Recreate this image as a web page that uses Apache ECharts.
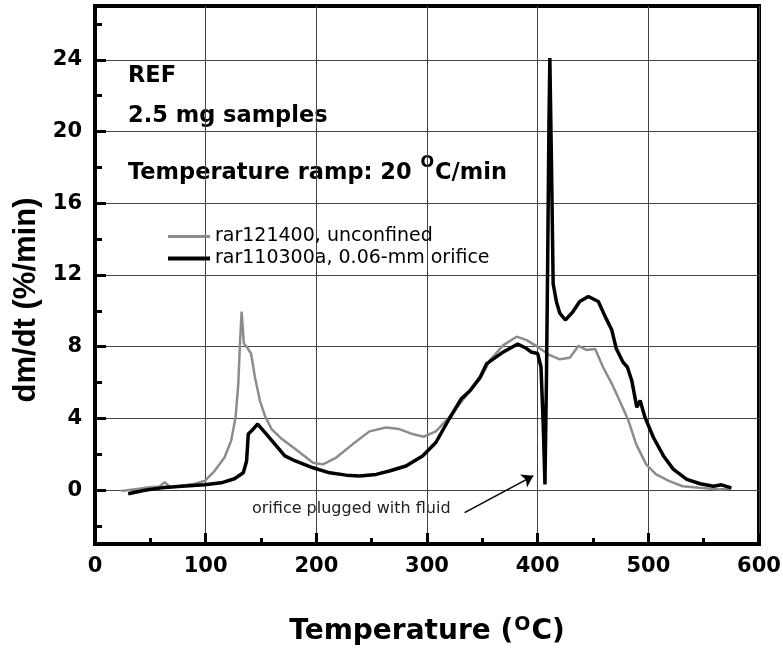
<!DOCTYPE html>
<html>
<head>
<meta charset="utf-8">
<script src="https://cdn.jsdelivr.net/npm/echarts@6/dist/echarts.min.js"></script>
<style>
html,body{margin:0;padding:0;background:#fff}
#main{width:783px;height:651px}
</style>
</head>
<body>
<div id="main"></div>
<script>
// unconfined run (grey)
var tempA = [24, 45, 58, 63, 68, 90, 99, 108, 117, 123, 127, 129.5, 131, 132.5, 134.5, 137, 141, 144.5, 149, 153.5,
  159.5, 168, 181, 197, 206, 218, 233, 248, 263, 275, 287, 297, 308, 320, 332, 348, 357, 369, 381, 390,
  400, 411, 420, 429, 437, 444, 452, 459, 467, 474, 482, 489, 498, 507, 519, 531, 546, 564, 575];
var rateA = [-0.05, 0.13, 0.2, 0.45, 0.15, 0.36, 0.51, 1.07, 1.82, 2.75, 4.06, 5.94, 8.18, 9.96, 8.18, 8.0, 7.62, 6.31, 5.0, 4.16,
  3.41, 2.9, 2.3, 1.53, 1.44, 1.82, 2.57, 3.28, 3.5, 3.41, 3.13, 2.98, 3.28, 4.06, 5.0, 6.2, 7.25, 8.09, 8.56, 8.37,
  7.99, 7.53, 7.3, 7.38, 8.05, 7.82, 7.88, 6.87, 5.94, 5.0, 3.88, 2.57, 1.44, 0.88, 0.51, 0.22, 0.13, 0.04, 0.1];

// 0.06-mm orifice run (black)
var tempB = [30, 45, 60, 75, 99, 114, 126, 134, 137, 138.5, 141.5, 147, 153.5, 162.5, 171.5, 181, 197, 212, 227, 239,
  254, 266, 281, 296, 308, 320, 331, 339, 348, 354, 369, 382, 390, 394, 400, 403, 405, 406.6, 408, 409,
  410.2, 411, 412.6, 414, 417, 420, 425, 432, 438, 445.8, 454.8, 461, 467, 471, 477, 481, 485, 489.6, 492.6, 497,
  504.6, 513.7, 522.7, 534.8, 546.8, 559, 566, 575];
var rateB = [-0.2, 0.0, 0.13, 0.2, 0.3, 0.41, 0.64, 0.97, 1.63, 3.13, 3.31, 3.69, 3.22, 2.57, 1.91, 1.63, 1.25, 0.97, 0.84, 0.79,
  0.88, 1.07, 1.35, 1.91, 2.66, 3.97, 5.1, 5.56, 6.3, 7.06, 7.71, 8.15, 7.9, 7.71, 7.62, 6.87, 3.69, 0.32, 6.5, 12.5,
  20.5, 24.1, 17.7, 11.5, 10.5, 9.87, 9.49, 9.96, 10.52, 10.8, 10.52, 9.68, 8.93, 7.9, 7.15, 6.87, 6.12, 4.62, 5.0, 4.06,
  2.94, 1.91, 1.16, 0.6, 0.36, 0.22, 0.3, 0.13];

var seriesNames = ['rar121400, unconfined', 'rar110300a, 0.06-mm orifice'];
var yMajor = [0, 4, 8, 12, 16, 20, 24];
var yMinor = [-2, 2, 6, 10, 14, 18, 22, 26];

function pairs(xs, ys) {
  return xs.map(function (x, i) { return [x, ys[i]]; });
}

var chart = echarts.init(document.getElementById('main'));
var bold = 'DejaVu Sans';

var option = {
  animation: false,
  backgroundColor: '#fff',
  grid: {
    left: 95, top: 6, width: 664, height: 538,
    show: true, borderColor: '#000', borderWidth: 4,
    outerBoundsMode: 'none'
  },
  legend: {
    orient: 'vertical',
    left: 168, top: 227, padding: 0,
    itemWidth: 42, itemHeight: 12, itemGap: 3,
    textStyle: { fontFamily: 'DejaVu Sans', fontSize: 19, color: '#000' },
    data: [
      { name: seriesNames[0], icon: 'path://M0,0H42V3H0Z' },
      { name: seriesNames[1], icon: 'path://M0,0H42V4H0Z' }
    ]
  },
  xAxis: {
    type: 'value', min: 0, max: 600, interval: 100,
    name: '{t|Temperature (}{s|O}{t|C)}',
    nameLocation: 'middle', nameGap: 62,
    nameTextStyle: {
      rich: {
        t: { fontFamily: bold, fontWeight: 'bold', fontSize: 28, color: '#000', lineHeight: 40, verticalAlign: 'bottom' },
        s: { fontFamily: bold, fontWeight: 'bold', fontSize: 19, color: '#000', lineHeight: 26, verticalAlign: 'top', padding: [10, 1, 0, 1] }
      }
    },
    axisLine: { show: true, onZero: false, lineStyle: { color: '#000', width: 4 } },
    axisTick: { show: true, inside: true, length: 11, lineStyle: { color: '#000', width: 3 } },
    minorTick: { show: true, splitNumber: 2, length: 6, lineStyle: { color: '#000', width: 3 } },
    axisLabel: { fontFamily: bold, fontWeight: 'bold', fontSize: 21, color: '#000', margin: 12 },
    splitLine: { show: true, lineStyle: { color: '#444', width: 1 } }
  },
  yAxis: [{
    type: 'value', min: -3, max: 27,
    name: 'dm/dt (%/min)',
    nameLocation: 'middle', nameGap: 50,
    nameTextStyle: { fontFamily: 'Liberation Sans', fontWeight: 'bold', fontSize: 31, color: '#000', padding: [0, 50, 0, 0] },
    axisLine: { show: true, onZero: false, lineStyle: { color: '#000', width: 4 } },
    axisTick: { show: true, inside: true, length: 11, customValues: yMajor, lineStyle: { color: '#000', width: 3 } },
    axisLabel: { customValues: yMajor, fontFamily: bold, fontWeight: 'bold', fontSize: 21, color: '#000', margin: 13 },
    splitLine: { show: true, lineStyle: { color: '#444', width: 1 } }
  }, {
    type: 'value', min: -3, max: 27, position: 'left',
    axisLine: { show: false },
    axisTick: { show: true, inside: true, length: 7, customValues: yMinor, lineStyle: { color: '#000', width: 3 } },
    axisLabel: { show: false },
    splitLine: { show: false }
  }],
  graphic: [
    { type: 'text', left: 128, top: 65, style: { text: 'REF', fontFamily: bold, fontWeight: 'bold', fontSize: 22.5, fill: '#000' } },
    { type: 'text', left: 128, top: 105, style: { text: '2.5 mg samples', fontFamily: bold, fontWeight: 'bold', fontSize: 22.5, fill: '#000' } },
    { type: 'text', left: 128, top: 151, style: {
      text: '{a|Temperature ramp: 20 }{s|O}{a|C/min}',
      rich: {
        a: { fontFamily: bold, fontWeight: 'bold', fontSize: 22.5, fill: '#000', lineHeight: 34, verticalAlign: 'bottom' },
        s: { fontFamily: bold, fontWeight: 'bold', fontSize: 16, fill: '#000', lineHeight: 17, verticalAlign: 'top', padding: [4, 1, 0, 1] }
      }
    } },
    { type: 'text', left: 252, top: 501, style: { text: 'orifice plugged with fluid', fontFamily: 'DejaVu Sans', fontSize: 16, fill: '#222' } }
  ],
  series: [{
    name: seriesNames[0], type: 'line', yAxisIndex: 0,
    data: pairs(tempA, rateA),
    symbol: 'none', z: 2,
    itemStyle: { color: '#8c8c8c' },
    lineStyle: { color: '#8c8c8c', width: 2.5 }
  }, {
    name: seriesNames[1], type: 'line', yAxisIndex: 0,
    data: pairs(tempB, rateB),
    symbol: 'none', z: 3,
    itemStyle: { color: '#000' },
    lineStyle: { color: '#000', width: 3.5 },
    markLine: {
      silent: true, symbol: ['none', 'arrow'], symbolSize: 11,
      label: { show: false },
      lineStyle: { color: '#000', width: 1.5, type: 'solid' },
      data: [[{ coord: [334, -1.25] }, { coord: [396, 0.8] }]]
    }
  }]
};
chart.setOption(option);
</script>
</body>
</html>
